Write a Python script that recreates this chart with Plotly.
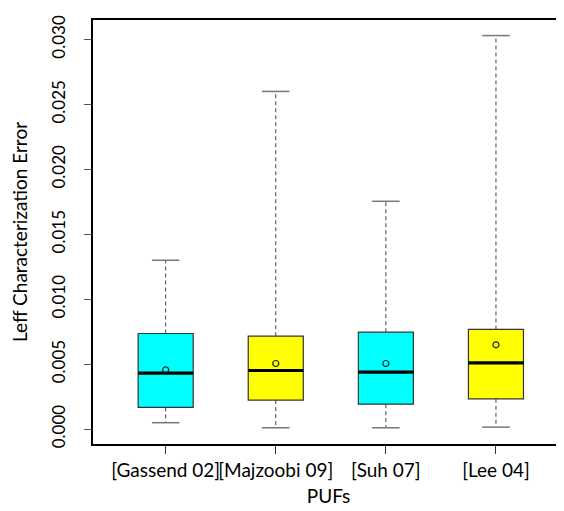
import plotly.graph_objects as go

categories = ["[Gassend 02]", "[Majzoobi 09]", "[Suh 07]", "[Lee 04]"]
positions = [1, 2, 3, 4]
q1 = [0.00167, 0.00223, 0.00192, 0.00233]
median = [0.00431, 0.00451, 0.00438, 0.00510]
q3 = [0.00736, 0.00715, 0.00746, 0.00767]
lower = [0.00049, 0.00010, 0.00010, 0.00015]
upper = [0.01300, 0.02600, 0.01754, 0.03030]
means = [0.00456, 0.00505, 0.00505, 0.00649]
fill_colors = ["#00FFFF", "#FFFF00", "#00FFFF", "#FFFF00"]
y_ticks = [0.000, 0.005, 0.010, 0.015, 0.020, 0.025, 0.030]

BOX_W = 0.5
CAP_W = 0.25

fig = go.Figure()

for i in range(len(categories)):
    x = positions[i]
    fig.add_trace(go.Box(
        x=[x], q1=[q1[i]], median=[median[i]], q3=[q3[i]],
        lowerfence=[q1[i]], upperfence=[q3[i]],
        width=BOX_W, fillcolor=fill_colors[i],
        line=dict(color="#333333", width=1.2),
        whiskerwidth=0, boxpoints=False, showlegend=False, hoverinfo="skip",
    ))
    fig.add_trace(go.Scatter(
        x=[x, x, None, x, x], y=[q3[i], upper[i], None, q1[i], lower[i]],
        mode="lines", line=dict(color="#444444", width=1, dash="4px,3px"),
        showlegend=False, hoverinfo="skip",
    ))
    fig.add_trace(go.Scatter(
        x=[x - CAP_W / 2, x + CAP_W / 2, None, x - CAP_W / 2, x + CAP_W / 2],
        y=[upper[i], upper[i], None, lower[i], lower[i]],
        mode="lines", line=dict(color="#777777", width=1.5),
        showlegend=False, hoverinfo="skip",
    ))
    fig.add_trace(go.Scatter(
        x=[x - BOX_W / 2, x + BOX_W / 2], y=[median[i], median[i]],
        mode="lines", line=dict(color="black", width=3.2),
        showlegend=False, hoverinfo="skip",
    ))

fig.add_trace(go.Scatter(
    x=positions, y=means, mode="markers",
    marker=dict(symbol="circle-open", size=6, color="#222222", line=dict(width=1.2)),
    showlegend=False, hoverinfo="skip",
))

fig.update_layout(
    width=556, height=503,
    margin=dict(l=85, r=0, t=12, b=67),
    plot_bgcolor="white", paper_bgcolor="white",
    font=dict(family="Lato, 'Open Sans', sans-serif", size=17, color="black"),
)
fig.update_xaxes(
    range=[0.34, 4.618], tickvals=positions, ticktext=categories,
    tickfont=dict(size=19), tickangle=0,
    showline=True, mirror=True, linecolor="black", linewidth=1.5,
    ticks="outside", ticklen=8, tickcolor="#333333",
    showgrid=False, zeroline=False, automargin=False,
    title=dict(text="PUFs", standoff=10, font=dict(size=19)),
)
fig.update_yaxes(
    range=[-0.00115, 0.0315], tickvals=y_ticks,
    ticktext=[f"{v:.3f}" for v in y_ticks], tickangle=-90,
    tickfont=dict(size=17),
    showline=True, linecolor="black", linewidth=1.5,
    ticks="outside", ticklen=7, tickcolor="#555555",
    ticklabelstandoff=12,
    showgrid=False, zeroline=False, automargin=False,
    title=dict(text="Leff Characterization Error", standoff=20, font=dict(size=19)),
)

fig.write_html("out.html")
